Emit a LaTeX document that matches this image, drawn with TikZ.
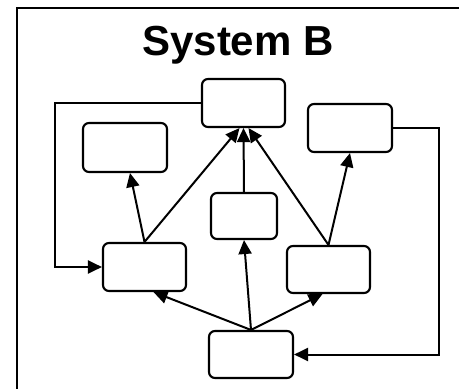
\documentclass[tikz,border=0pt]{standalone}
\usepackage{fontspec}
\setmainfont{Liberation Sans}
\usetikzlibrary{arrows.meta}
\begin{document}
\begin{tikzpicture}[x=1pt,y=-1pt,
  box/.style={draw,line width=2.1pt,rounded corners=6pt,fill=white,inner sep=0pt},
  conn/.style={line width=2pt,-{Triangle[length=14pt,width=13pt]}}]
\useasboundingbox (0,0) rectangle (459,389);
\clip (0,0) rectangle (459,389);
\fill[white] (0,0) rectangle (459,389);
\draw[line width=2.5pt] (17,8) rectangle (480,420);
\node[font=\bfseries\fontsize{42}{46}\selectfont,anchor=base] (title) at (238,55) {System B};
\node[box,minimum width=83pt,minimum height=48pt] (top) at (243.5,103) {};
\node[box,minimum width=84pt,minimum height=48pt] (rt) at (350,128) {};
\node[box,minimum width=84pt,minimum height=49pt] (lt) at (125,147.5) {};
\node[box,minimum width=66pt,minimum height=46pt] (mid) at (244,216) {};
\node[box,minimum width=83pt,minimum height=48pt] (lb) at (144.5,267) {};
\node[box,minimum width=83pt,minimum height=47pt] (rb) at (328.5,269.5) {};
\node[box,minimum width=84pt,minimum height=47pt] (bot) at (251,354.5) {};
\coordinate (lc) at (55,0);
\coordinate (rc) at (439,0);
\draw[conn] (top.west) -| (lc |- lb.west) -- (lb.west);
\draw[conn] (rt.east) -| (rc |- bot.east) -- (bot.east);
\draw[conn] (lb.north) -- ([xshift=5pt]lt.south);
\draw[conn] (lb.north) -- ([xshift=-4pt]top.south);
\draw[conn] (mid.north) -- (top.south);
\draw[conn] (rb.north) -- ([xshift=5pt]top.south);
\draw[conn] (rb.north) -- (rt.south);
\draw[conn] (bot.north) -- ([xshift=9pt]lb.south);
\draw[conn] (bot.north) -- (mid.south);
\draw[conn] (bot.north) -- ([xshift=-6pt]rb.south);
\end{tikzpicture}
\end{document}
